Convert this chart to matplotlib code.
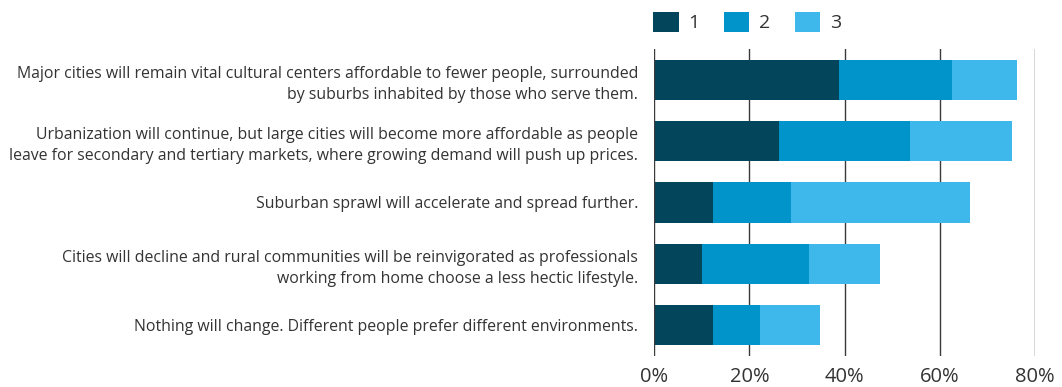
import numpy as np
import matplotlib.pyplot as plt
from matplotlib.patches import Patch

# Data
categories = [
    "Major cities will remain vital cultural centers affordable to fewer people, surrounded\nby suburbs inhabited by those who serve them.",
    "Urbanization will continue, but large cities will become more affordable as people\nleave for secondary and tertiary markets, where growing demand will push up prices.",
    "Suburban sprawl will accelerate and spread further.",
    "Cities will decline and rural communities will be reinvigorated as professionals\nworking from home choose a less hectic lifestyle.",
    "Nothing will change. Different people prefer different environments.",
]
rank1 = [38.8, 26.2, 12.3, 10.0, 12.3]
rank2 = [23.8, 27.6, 16.4, 22.5, 10.0]
rank3 = [13.7, 21.4, 37.6, 14.9, 12.6]
series_names = ["1", "2", "3"]
colors = ["#03465C", "#0094CA", "#3EB8EA"]
xticks = [0, 20, 40, 60, 80]

plt.rcParams['font.family'] = ['Open Sans', 'DejaVu Sans']
txt = "#333333"

fig = plt.figure(figsize=(10.62, 3.87), dpi=100)
ax = fig.add_axes([0.6161, 0.0809, 0.9743 - 0.6161, 0.8726 - 0.0809])

y = np.arange(len(categories))
left = np.zeros(len(categories))
for vals, c in zip([rank1, rank2, rank3], colors):
    ax.barh(y, vals, left=left, height=0.66, color=c, edgecolor="none", zorder=2)
    left += np.array(vals)

# vertical grid lines
for xt in xticks:
    ax.axvline(xt, color="#3a3a3a", lw=1.0, zorder=3 if xt == 0 else 1)

ax.set_xlim(0, 80)
ax.set_ylim(len(categories) - 0.5, -0.5)
ax.set_xticks(xticks)
ax.set_xticklabels([f"{v}%" for v in xticks], fontsize=14.5, color=txt)
ax.set_yticks(y)
ax.set_yticklabels(categories, fontsize=11.4, color=txt,
                   ha="right", linespacing=1.42)
ax.tick_params(axis="both", length=0)
ax.tick_params(axis="y", pad=11.5)
ax.tick_params(axis="x", pad=8)
for s in ax.spines.values():
    s.set_visible(False)

handles = [Patch(facecolor=c, edgecolor="none") for c in colors]
fig.legend(handles, series_names, loc="upper left",
           bbox_to_anchor=(0.602, 1.005), ncol=3, frameon=False,
           prop={"size": 14}, labelcolor=txt,
           handlelength=1.32, handleheight=1.24, handletextpad=0.5,
           columnspacing=1.25, borderaxespad=0.3)

fig.savefig("out.png", dpi=100)
